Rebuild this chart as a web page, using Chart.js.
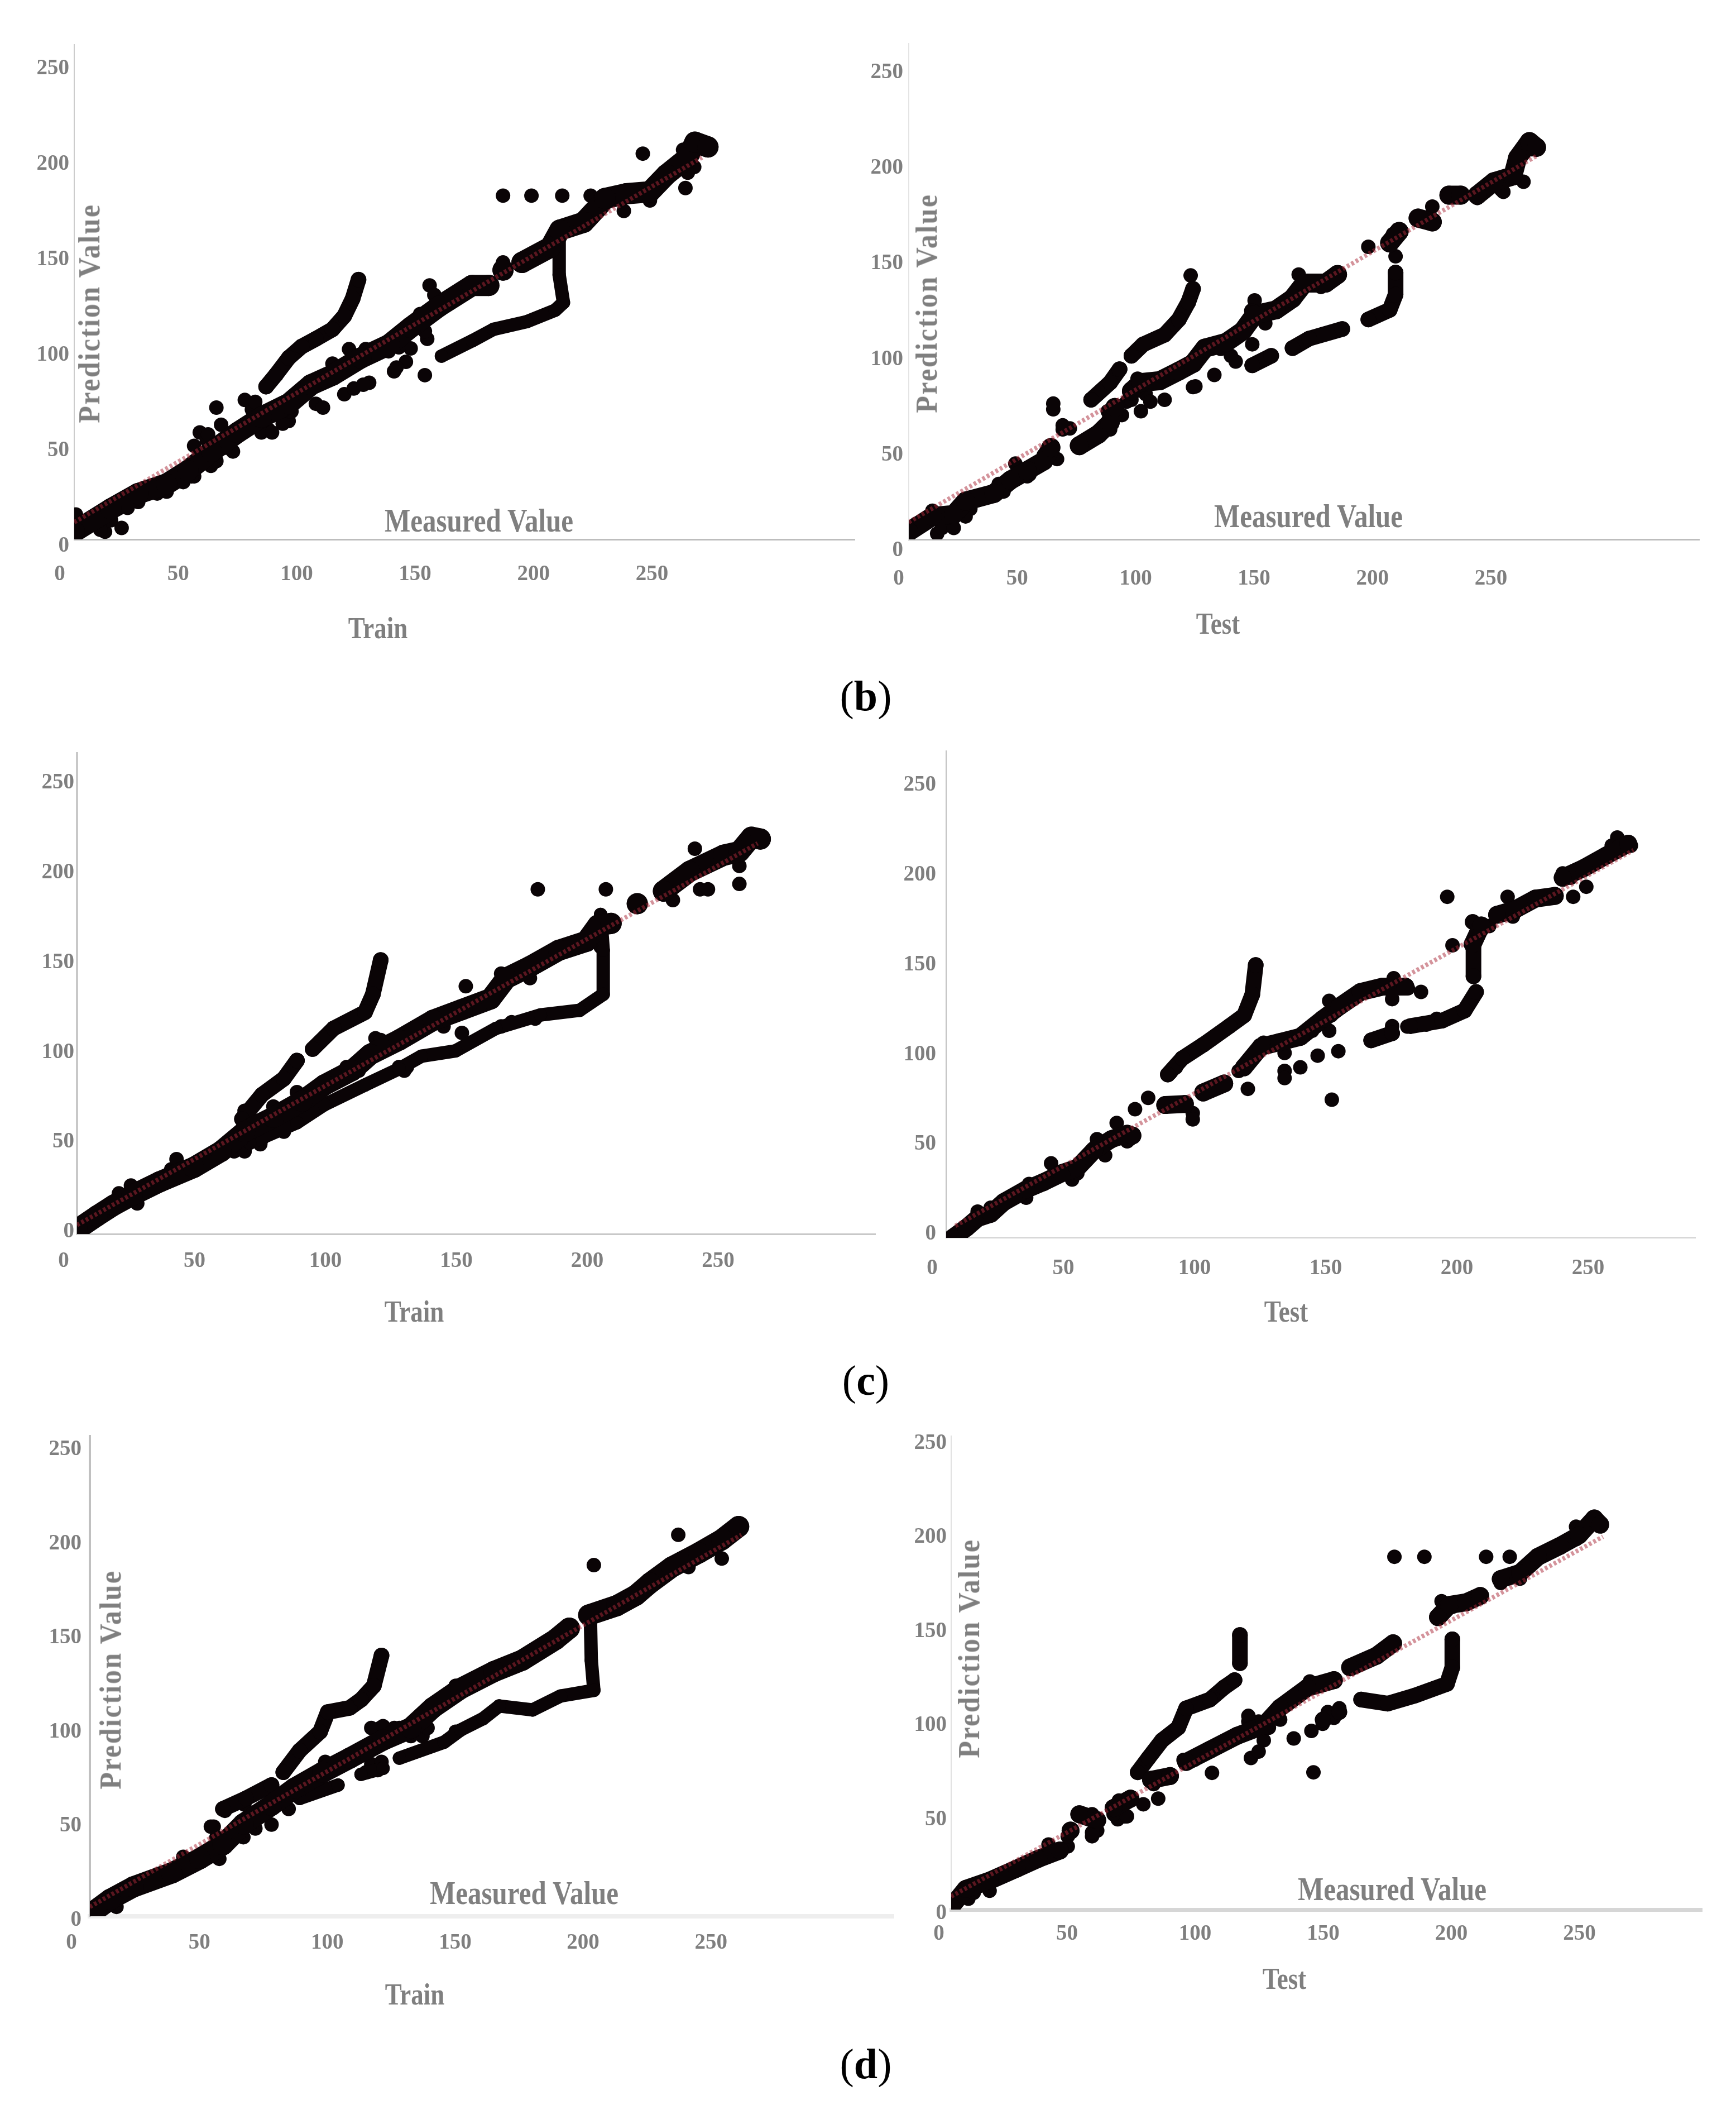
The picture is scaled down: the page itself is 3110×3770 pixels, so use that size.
<!DOCTYPE html>
<html><head><meta charset="utf-8">
<script src="https://cdn.jsdelivr.net/npm/chart.js@4"></script>
<style>
html,body{margin:0;padding:0;background:#fff;width:3110px;height:3770px;overflow:hidden}
canvas{position:absolute}
.t{position:absolute;font-family:"Liberation Serif",serif;font-weight:bold;color:#7f7f7f;white-space:nowrap;transform:translate(-50%,-50%) scale(1,1.22)}
.mv{font-size:49px}
.tt{font-size:45px}
.pv{font-size:50px;letter-spacing:2.5px;transform:translate(-50%,-50%) rotate(-90deg) scale(1,1.1)}
.cap{color:#000;font-size:76px;font-weight:normal;transform:translate(-50%,-50%)}
.cap b{font-weight:bold}
</style></head><body>
<script>
const tickValues=[0,50,100,150,200,250];

// --- (b) Train
const bTrainFit=[[0,9],[265,200]];
const bTrainMain=[[0,4],[15.5,16],[27,24],[39,29],[48,36],[58,46],[69,56],[79,64],[90.5,71],[100,81],[109,86],[121,95],[133,102],[142,111],[154,122],[168,133],[175,133],null,[181,141],null,[189,145],[201,153],[205,162],[215,166],[221,174],[224,178.5],[233,181],[243,182],[250,191],[259,200],[262,208],[267.5,205.5]];
const bTrainUpper=[[81,80],[85,86],[90.5,95],[96,101],[102,105],[109,110],[114,117],[117.5,126],[120,136]];
const bTrainLower=[[155,96],[168,104],[177,110],[191,114],[203,120],[206.5,124],[204.7,138.5],[204.7,162]];
const bTrainScatter=[[60,69],[181,180],[193,180],[206,180],[218,180],[240,202],[150,133],[258,184],[232,172],[181,145],[0.7,13],[148,86],[135,88],[149,105],[109,92],[124.5,82],[114,76],[102,71],[90.5,62],[82,57.5],[50.6,33],[67,46],[72,73],[53,56],[13,4],[118,79],[122,81],[105,69],[60,41],[64,48],[56,52],[75,68],[140,93],[142,100],[146,118],[152,128],[20,6],[35,24],[46,30],[50.6,49],[56.5,55],[62,60],[76.4,72],[49.5,33],[57.7,38.5],[79,56],[83.5,56],[88,60.6],[91.7,67],[116,99.6],[123,99.6],[132.7,98.5],[137,100.6],[143,114],[149,119.6],[148,109],[136,90],[27,19.6],[39,25],[15.5,10],[11,5],[22.5,16.5],[257,204],[261.7,195],[259,192],[243,177.5],[203,157.5]];

// --- (b) Test
const bTestFit=[[0,9],[265,200.5]];
const bTestMain=[[0,4],[10,12],[19,13],[24,20],[36,24],[43,31],[50,36],[57,41],[60,48],null,[72,49],[80,55],[85,61],[87,69],null,[94,77.5],[98,82],[106,83],[114,88],[120,92],[125,100],[134,103],[141,109],[146,117.5],[155,120],[162,126],[167,134],[176,134],[181,138.5],null,[203,155],[207,161],null,[215,168],[221,166],null,[228,180],[233,180],null,[240,180],[247,187],[255,190],[257,199.5],[262,208],[265,205]];
const bTestUpper=[[77,73],[85,82],[89,89],null,[94,96],[99,102],[108,107],[114,115],[118,124],[120,131]];
const bTestLower=[[145,91],[153,96],null,[162,100],[169,105],[183,110],null,[194,115],[203,120],[205.5,128],[205.5,139.5]];
const bTestScatter=[[61,68],[61,71],[65,57.5],[68,58],[194,153],[119,138],[221,174],[98,67],[108,73],[121,80],[129,86],[136,96],[62.6,42],[51,34],[259.5,187],[250,183],[12,3],[14,6],[100,76],[102,72],[146,125],[90,65],[92,72],[145,102],[138,93],[205.5,148],[3,8],[10,15],[19,6],[26,16],[24,12],[38,29],[40,25],[45,39.6],[50,33],[57,44],[65,59.6],[72,50],[85,57.5],[84,67],[94,73],[96.6,79.6],[96.6,84],[120,79.6],[120,93],[122,96.4],[127,101.7],[131.7,99.6],[144.6,119.6],[146,115],[150.5,113],[164.6,138.5],[174,132],[204.4,159.6],[251,188],[251,181.7],[240,178.5],[259.5,201.7],[263,204]];

// --- (c) Train
const cTrainFit=[[0,5],[260,217.6]];
const cTrainMain=[[0,2.5],[7.6,10],[14,16],[21,21.5],[31.5,29],[44.5,37],[55,46],[64,57],[75,65],[86,74],[94.5,83],[105,91],[112,100],[123,108],[136,119],[147,125],[158,131],[164,142.5],[173,149],[184,158],[194.5,163],[199,172],[204,173],null,[214,184],null,[224,191],[234,202],[247,211],[253,213],[257.6,221],[261,220]];
const cTrainUpper=[[63,64],[70.6,77.5],[79,86.5],[84,96.6],null,[90,103],[98,114.5],[110,123.5],[113,133.5],[116,152.6]];
const cTrainLower=[[66,50.6],[84,62],[94.5,72],[110,83],[123,92],[131.5,99],[144.6,102],[160,114.5],[177,122],[192,124.6],[201,133.5],[201,158],[200,178]];
const cTrainScatter=[[176,192],[202,192],[236,214.6],[238,192],[241,192],[227.6,186],[253,195],[253,205],[148.5,138],[147,112],[75,61],[84,79],[114,109],[116,108],[122,108],[162,145],[105,93],[123,93],[126,93],[70,58],[80,66],[60,46],[70,50],[60,53],[64,68.6],[75,71],[84,64],[88,68.6],[70.6,53],[79,57],[64,46],[36,36],[38,41.7],[40,34],[16,22.6],[20.6,27],[23,17],[107.6,91],[103,93],[166,144.7],[173,142.5],[140,122],[140,115.6],[125,91],[196.7,165],[200,160],[231.5,200.8],[162,115.6],[166,118],[175,120]];

// --- (c) Test
const cTestFit=[[3.5,6.7],[262,216]];
const cTestMain=[[2.5,0],[7.7,5.6],[12,11],[17,13.4],[22,20],[30.5,27],[37,31],[44,36],[50,39],[56.5,49],[63,55],[69,58],[71,57],null,[83.5,74],[91,74.6],null,[98,81],[106,86],null,[113.5,95],[120,106.5],[127,109],[135,112],[143.6,122],[150,129],[158,137],[166.5,140],[175,140],null,[200.7,163.6],[204,174],null,[210,180],[217,183],[224.6,189],[232,190.5],null,[235,200.6],[243,206],[251.6,213],[260,219.6]];
const cTestUpper=[[84.5,91],[90,100],[98,107.6],[108,118],[113.6,124],[116.7,135.6],[118,152]];
const cTestLower=[[162,110],[170,114],null,[177,118],[189,121],[197.6,126.6],[202,137],null,[201,165],[201,145.7],null,[200.7,176]];
const cTestScatter=[[72,71.7],[77,78],[94,69.5],[94,66],[40,41.5],[47,35],[70,55],[115,83],[129,93],[129,89],[135,95],[141.6,101.5],[149.5,104],[147,77],[191,190],[193,163],[214,190],[239,190],[244,195.6],[176,139],[170,133],[146,132],[65,64],[216,179],[181,137],[170,118],[12,14.6],[17,16.8],[30.5,22.4],[31.6,30],[40,32.5],[48,32.5],[50,36],[57.5,55],[60.6,46],[69,53.8],[111.5,93],[114.6,97.5],[121,108.7],[129,103],[139.5,115.4],[146.8,124],[146,115.4],[154,133],[170.6,144.6],[171.7,140],[235,203],[238,200.6],[245.4,207],[255.8,223],[253.7,218.5],[261,218.5],[85.5,92],[87.6,95],[175.8,117.7],[183,118.8],[187,122],[204,171.4],[207,173.7]];

// --- (d) Train
const dTrainFit=[[0,5],[254.7,202.6]];
const dTrainMain=[[0,1],[8,9],[17,15.6],[32,23],[43,30.6],[52,38],[60,49],[71,59],[80,68],[91,76.5],[101.6,84],[114.6,93.6],[125.5,100],[134,110.7],[145,121],[158,130],[169,136],[182,147],[187.4,153],null,[195,160],[206,165],[213.4,170.5],[219,177],[227.5,185.5],[238,193],[247,200],[253.6,207]];
const dTrainUpper=[[52,57],[61,62.6],[71,69.7],null,[75.6,76.5],[82,88],[90,98],[93,108.5],[101.6,110.7],[106,115],[111,122.4],[114,138.5]];
const dTrainLower=[[82,62.6],[97,69.7],null,[106,75.4],[114.6,78.6],null,[121,84],[138.5,92.5],[145,99],[153.7,105],[160,111.7],[173,109.6],[184,117],[197,120],[196,136],[195.6,162]];
const dTrainScatter=[[197,186.5],[230,202.6],[247,190],[113.5,100],[119,100],[130,95.7],[48.4,47.6],[64.7,46.6],[77.7,57],[71,48.7],[60,42],[49.5,31.6],[110,80.8],[84,65],[92,82],[95,78],[114,82],[47.3,47.6],[52.8,56],[60.4,59.4],[49.5,42],[50.6,30.5],[36.5,31.6],[38.6,27],[110,100],[114.6,101],[121,100],[125.5,95.7],[132,100],[130,104],[90.7,76.5],[108,76.5],[112.5,77.6],[143,98],[143,122.4],[216.7,173.7],[229.7,187.6],[234,185.5],[245,200],[252.5,207],[6,8],[10.4,5]];

// --- (d) Test
const dTestFit=[[0,7],[254.4,198.3]];
const dTestMain=[[0,1.5],[5.7,11],[15,15.4],[25.6,21.8],[34,27],[42.4,31.4],null,[46.6,42],null,[50,50.7],[57,47.5],null,[63.4,54],[70,59],null,[78,69],[85.4,71],null,[91.7,78.5],[101,85],[111.6,92.4],[122,97.8],[128.4,107.4],[139,118],[149.4,122],null,[155.7,128.8],[166,135],[172.5,141.6],null,[190,155.5],[194.5,162],[201,163.4],[206.5,166.8],null,[214.5,175.8],[222,179],[229,187.6],[237.6,193.4],[245,199],[251,208],[253.3,204.7]];
const dTestUpper=[[72.8,73],[77,80.6],[82.3,90],[88.6,96.7],[91.7,107],[101,111.7],[106.4,118],[110.6,122],null,[112.7,131],[112.7,146]];
const dTestLower=[[145,101],[151.5,105],null,[160,111.7],[170.4,109.5],[181,113.8],[193.5,120],[195.6,128.8],[195.6,143.7]];
const dTestScatter=[[173,187.6],[184.7,187.6],[208.8,187.6],[218,187.6],[141.4,73],[133.7,91],[140.6,95],[122,90],[117,80.6],[120,84],[101.8,72.7],[80.8,59],[79,66.7],[75,56],[67.6,49.6],[55,39],[45.5,33.6],[15,10],[116,100],[140,121.3],[120,100],[57,42],[65,48],[50.8,50.7],[55,50.7],[55,41],[45.5,39],[40.3,30.4],[38,34.6],[63.4,50.7],[68.6,49.6],[65.5,58],[90.7,79.6],[94.9,79.6],[116,103],[117,96.7],[124,96.7],[128.4,101],[147,105],[149.4,102],[151.5,107],[145,98.8],[214.5,173.7],[218.7,177],[222,176],[191.4,164],[195.6,161],[243.9,203.6],[243.9,197],[237.6,193],[229.2,187.6],[250,205.8],[6.7,5.8],[8.8,9]];

const panels=[
 {id:'b1',fit:bTrainFit,main:bTrainMain,upper:bTrainUpper,lower:bTrainLower,scatter:bTrainScatter,mw:38,lw:24,ax:133,ay:966,sx:4.244,sy:3.42,top:80,right:1532,offX:-26,offY:12,padY:9,padX:40,yc:'#cccccc',yw:2,xc:'#bdbdbd',xw:3},
 {id:'b2',fit:bTestFit,main:bTestMain,upper:bTestUpper,lower:bTestLower,scatter:bTestScatter,mw:34,lw:28,ax:1628,ay:966,sx:4.244,sy:3.425,top:78,right:3045,offX:-18,offY:20,padY:10,padX:48,yc:'#e4e4e4',yw:2,xc:'#bdbdbd',xw:3},
 {id:'c1',fit:cTrainFit,main:cTrainMain,upper:cTrainUpper,lower:cTrainLower,scatter:cTrainScatter,mw:38,lw:24,ax:138,ay:2210,sx:4.69,sy:3.215,top:1349,right:1569,offX:-24,offY:-4,padY:5,padX:26,yc:'#c8c8c8',yw:4,xc:'#c8c8c8',xw:3},
 {id:'c2',fit:cTestFit,main:cTestMain,upper:cTestUpper,lower:cTestLower,scatter:cTestScatter,mw:32,lw:28,ax:1695,ay:2217,sx:4.70,sy:3.215,top:1345,right:3038,offX:-25,offY:-7,padY:18,padX:32,yc:'#c0c0c0',yw:2,xc:'#d0d0d0',xw:2},
 {id:'d1',fit:dTrainFit,main:dTrainMain,upper:dTrainUpper,lower:dTrainLower,scatter:dTrainScatter,mw:38,lw:24,ax:161,ay:3432,sx:4.583,sy:3.372,top:2572,right:1602,offX:-33,offY:7,padY:15,padX:25,yc:'#c0c0c0',yw:4,xc:'#eeeeee',xw:8},
 {id:'d2',fit:dTestFit,main:dTestMain,upper:dTestUpper,lower:dTestLower,scatter:dTestScatter,mw:32,lw:28,ax:1704,ay:3420,sx:4.59,sy:3.368,top:2572,right:3050,offX:-22,offY:7,padY:8,padX:21,yc:'#e0e0e0',yw:2,xc:'#d6d6d6',xw:7}
];
const labels=[
 ['mv','Measured Value',858,932],['tt','Train',677,1125],['pv','Prediction Value',159,561],
 ['mv','Measured Value',2344,924],['tt','Test',2182,1117],['pv','Prediction Value',1659,543],
 ['tt','Train',742,2349],['tt','Test',2304,2349],
 ['mv','Measured Value',939,3390],['tt','Train',743,3572],['pv','Prediction Value',197,3008],
 ['mv','Measured Value',2494,3383],['tt','Test',2301,3544],['pv','Prediction Value',1735,2952]
];
const captions=[['b',1551,1246],['c',1551,2472],['d',1551,3696]];

const toXY=a=>a.map(p=>p?{x:p[0],y:p[1]}:{x:null,y:null});
const LEFT=120,BOTTOM=100,HEAD=30;
const tickFont={family:'"Liberation Serif",serif',size:39,weight:'bold'};
const noPad=s=>{s.paddingLeft=0;s.paddingRight=0;s.paddingTop=0;s.paddingBottom=0};

panels.forEach(p=>{
  const cv=document.createElement('canvas');
  const w=p.right-p.ax+LEFT,h=p.ay-p.top+BOTTOM+HEAD;
  cv.width=w;cv.height=h;
  cv.style.left=(p.ax-LEFT)+'px';cv.style.top=(p.top-HEAD)+'px';
  cv.style.width=w+'px';cv.style.height=h+'px';
  document.body.appendChild(cv);
  const band=(data,bw)=>({data:toXY(data),showLine:true,spanGaps:false,borderColor:'#0a0406',backgroundColor:'#0a0406',borderWidth:bw,borderCapStyle:'round',borderJoinStyle:'round',pointRadius:bw/2,pointBorderWidth:0,pointHoverRadius:0,tension:0});
  new Chart(cv,{type:'scatter',data:{datasets:[
    {data:toXY(p.fit),showLine:true,borderColor:'rgba(170,40,55,0.5)',borderWidth:8,borderDash:[5,4],pointRadius:0,tension:0},
    band(p.main,p.mw),band(p.upper,28),band(p.lower,p.lw),
    {data:toXY(p.scatter),pointRadius:13,backgroundColor:'#0a0406',borderWidth:0,showLine:false}
  ]},options:{
    responsive:false,animation:false,events:[],
    layout:{padding:{top:HEAD,left:0,right:0,bottom:0},autoPadding:false},
    plugins:{legend:{display:false},tooltip:{enabled:false},title:{display:false}},
    scales:{
      x:{type:'linear',min:0,max:(p.right-p.ax)/p.sx,
        afterBuildTicks:s=>{s.ticks=tickValues.map(v=>({value:v}))},
        afterFit:s=>{s.height=BOTTOM;noPad(s)},
        grid:{color:'transparent',drawTicks:false,drawOnChartArea:false},
        border:{display:true,color:p.xc,width:p.xw},
        ticks:{font:tickFont,color:'#7f7f7f',padding:p.padX,labelOffset:p.offX,maxRotation:0,autoSkip:false}},
      y:{type:'linear',min:0,max:(p.ay-p.top)/p.sy,
        afterBuildTicks:s=>{s.ticks=tickValues.map(v=>({value:v}))},
        afterFit:s=>{s.width=LEFT;noPad(s)},
        grid:{color:'transparent',drawTicks:false,drawOnChartArea:false},
        border:{display:true,color:p.yc,width:p.yw},
        ticks:{font:tickFont,color:'#7f7f7f',padding:p.padY,labelOffset:p.offY,autoSkip:false}}
    }}});
});
labels.forEach(([c,s,x,y])=>{
  const d=document.createElement('div');d.className='t '+c;d.textContent=s;d.style.left=x+'px';d.style.top=y+'px';document.body.appendChild(d);
});
captions.forEach(([s,x,y])=>{
  const d=document.createElement('div');d.className='t cap';d.innerHTML='(<b>'+s+'</b>)';d.style.left=x+'px';d.style.top=y+'px';document.body.appendChild(d);
});
</script>
</body></html>
